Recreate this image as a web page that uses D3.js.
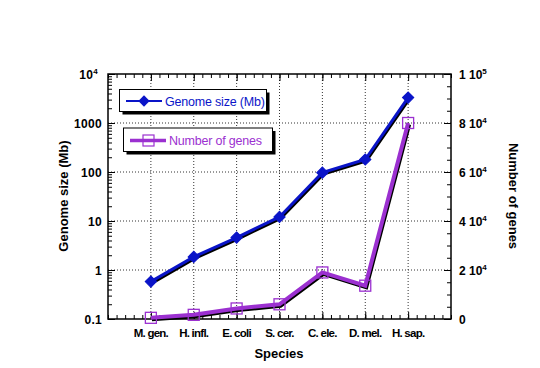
<!DOCTYPE html>
<html><head><meta charset="utf-8">
<script src="https://cdn.jsdelivr.net/npm/d3@7"></script>
<style>body{margin:0;background:#fff}svg{display:block;font-family:"Liberation Sans",Arial,sans-serif}</style>
</head><body>
<svg id="c" width="540" height="368"></svg>
<script>
const species = ["M. gen.", "H. infl.", "E. coli", "S. cer.", "C. ele.", "D. mel.", "H. sap."];
const genomeSize = [0.58, 1.85, 4.6, 12.1, 97, 180, 3300];
const numGenes = [480, 1700, 4300, 6000, 19000, 13600, 80000];
const leftTicks = [0.1, 1, 10, 100, 1000, 10000];
const rightTicks = [0, 20000, 40000, 60000, 80000, 100000];

const svg = d3.select("#c");
const L = 108, R = 451, T = 74, B = 319;
const x = d3.scaleLinear().domain([0, 8]).range([L, R]);
const yL = d3.scaleLog().domain([0.1, 10000]).range([B, T]);
const yR = d3.scaleLinear().domain([0, 100000]).range([B, T]);
const blue = "#0a14c8", purple = "#9b30d0";

// grid
const g = svg.append("g");
species.forEach((s, i) => {
  g.append("line").attr("x1", x(i + 1)).attr("x2", x(i + 1)).attr("y1", T).attr("y2", B)
    .attr("stroke", "#333").attr("stroke-width", 1).attr("stroke-dasharray", "1,2");
});
leftTicks.slice(1, -1).forEach(v => {
  g.append("line").attr("x1", L).attr("x2", R).attr("y1", yL(v)).attr("y2", yL(v))
    .attr("stroke", "#333").attr("stroke-width", 1).attr("stroke-dasharray", "1,2");
});

// axes (ticks inward)
const fmtNone = () => "";
const minorX = d3.range(0, 8.001, 0.2);
svg.append("g").attr("transform", `translate(0,${B})`)
  .call(d3.axisTop(x).tickValues(minorX).tickSize(4).tickFormat(fmtNone))
  .call(a => a.select(".domain").remove());
svg.append("g").attr("transform", `translate(0,${B})`)
  .call(d3.axisTop(x).tickValues(d3.range(1, 8)).tickSize(7).tickFormat(fmtNone))
  .call(a => a.select(".domain").remove());
svg.append("g").attr("transform", `translate(0,${T})`)
  .call(d3.axisBottom(x).tickValues(minorX).tickSize(4).tickFormat(fmtNone))
  .call(a => a.select(".domain").remove());
svg.append("g").attr("transform", `translate(0,${T})`)
  .call(d3.axisBottom(x).tickValues(d3.range(1, 8)).tickSize(7).tickFormat(fmtNone))
  .call(a => a.select(".domain").remove());

const minorLog = [];
for (let e = -1; e < 4; e++) for (let m = 2; m < 10; m++) minorLog.push(m * Math.pow(10, e));
svg.append("g").attr("transform", `translate(${L},0)`)
  .call(d3.axisRight(yL).tickValues(minorLog).tickSize(4).tickFormat(fmtNone))
  .call(a => a.select(".domain").remove());
svg.append("g").attr("transform", `translate(${L},0)`)
  .call(d3.axisRight(yL).tickValues(leftTicks).tickSize(7).tickFormat(fmtNone))
  .call(a => a.select(".domain").remove());
svg.append("g").attr("transform", `translate(${R},0)`)
  .call(d3.axisLeft(yR).tickValues(d3.range(0, 100001, 5000)).tickSize(4).tickFormat(fmtNone))
  .call(a => a.select(".domain").remove());
svg.append("g").attr("transform", `translate(${R},0)`)
  .call(d3.axisLeft(yR).tickValues(rightTicks).tickSize(7).tickFormat(fmtNone))
  .call(a => a.select(".domain").remove());
svg.selectAll(".tick line").attr("stroke", "#000").attr("stroke-width", 1);

// frame
svg.append("rect").attr("x", L).attr("y", T).attr("width", R - L).attr("height", B - T)
  .attr("fill", "none").attr("stroke", "#000").attr("stroke-width", 1.5);

// tick labels
const txt = (xx, yy, anchor, fs, ls) => svg.append("text").attr("x", xx).attr("y", yy)
  .attr("text-anchor", anchor).attr("font-size", fs).attr("font-weight", "bold")
  .attr("fill", "#000").attr("letter-spacing", ls);
leftTicks.forEach(v => {
  const t = txt(L - 6, yL(v) + 4.5, "end", 12, 0.3);
  if (v >= 10000) {
    t.attr("x", L - 10);
    t.append("tspan").text("10");
    t.append("tspan").attr("font-size", 8).attr("dy", -5).text(Math.round(Math.log10(v)));
  } else t.text(v === 0.1 ? "0.1" : String(v));
});
rightTicks.forEach(v => {
  const t = txt(R + 8, yR(v) + 4.5, "start", 12, 0);
  if (v === 0) { t.text("0"); return; }
  const e = Math.floor(Math.log10(v));
  const m = Math.round(v / Math.pow(10, e));
  t.append("tspan").text(m + " 10");
  t.append("tspan").attr("font-size", 8).attr("dy", -5).text(e);
});
species.forEach((s, i) => txt(x(i + 1), 337, "middle", 11.5, -0.75).text(s));

// axis titles
const title = () => svg.append("text").attr("text-anchor", "middle").attr("font-size", 13)
  .attr("font-weight", "bold").attr("fill", "#000");
title().attr("x", 279).attr("y", 358).text("Species");
title().attr("transform", "translate(68,196) rotate(-90)").text("Genome size (Mb)");
title().attr("transform", "translate(509,196) rotate(90)").text("Number of genes");

// series
const lineG = d3.line().x((d, i) => x(i + 1)).y(d => yL(d));
const lineN = d3.line().x((d, i) => x(i + 1)).y(d => yR(d));
const plot = svg.append("g");
plot.append("path").datum(numGenes).attr("d", lineN).attr("transform", "translate(1,1.5)")
  .attr("fill", "none").attr("stroke", "#000").attr("stroke-width", 4);
plot.append("path").datum(numGenes).attr("d", lineN)
  .attr("fill", "none").attr("stroke", purple).attr("stroke-width", 4);
plot.selectAll(".sq").data(numGenes).join("rect")
  .attr("x", (d, i) => x(i + 1) - 5.5).attr("y", d => yR(d) - 5.5).attr("width", 11).attr("height", 11)
  .attr("fill", "none").attr("stroke", purple).attr("stroke-width", 1.3);

plot.append("path").datum(genomeSize).attr("d", lineG).attr("transform", "translate(1,1.5)")
  .attr("fill", "none").attr("stroke", "#000").attr("stroke-width", 3);
plot.append("path").datum(genomeSize).attr("d", lineG)
  .attr("fill", "none").attr("stroke", blue).attr("stroke-width", 3);
const diamond = d3.symbol().type(d3.symbolSquare).size(64);
plot.selectAll(".dm").data(genomeSize).join("path")
  .attr("d", diamond).attr("transform", (d, i) => `translate(${x(i + 1)},${yL(d)}) rotate(45)`)
  .attr("fill", blue).attr("stroke", blue).attr("stroke-width", 1);

// legend
function legendBox(x0, y0, w, h) {
  svg.append("rect").attr("x", x0 + 3).attr("y", y0 + 3).attr("width", w).attr("height", h).attr("fill", "#000");
  svg.append("rect").attr("x", x0).attr("y", y0).attr("width", w).attr("height", h)
    .attr("fill", "#fff").attr("stroke", "#000").attr("stroke-width", 1);
}
legendBox(119.5, 89.5, 147, 22);
svg.append("line").attr("x1", 126).attr("x2", 162).attr("y1", 101).attr("y2", 101).attr("stroke", blue).attr("stroke-width", 2);
svg.append("path").attr("d", diamond).attr("transform", "translate(144,101) rotate(45)").attr("fill", blue);
svg.append("text").attr("x", 165).attr("y", 105.5).attr("font-size", 12.5).attr("fill", blue).attr("letter-spacing", -0.2).text("Genome size (Mb)");

legendBox(123.5, 128, 149, 23.5);
svg.append("line").attr("x1", 130).attr("x2", 166).attr("y1", 140.5).attr("y2", 140.5).attr("stroke", purple).attr("stroke-width", 3.5);
svg.append("rect").attr("x", 143).attr("y", 135).attr("width", 11).attr("height", 11).attr("fill", "none").attr("stroke", purple).attr("stroke-width", 1.2);
svg.append("text").attr("x", 169).attr("y", 145).attr("font-size", 12.5).attr("fill", purple).attr("letter-spacing", -0.2).text("Number of genes");
</script>
</body></html>
